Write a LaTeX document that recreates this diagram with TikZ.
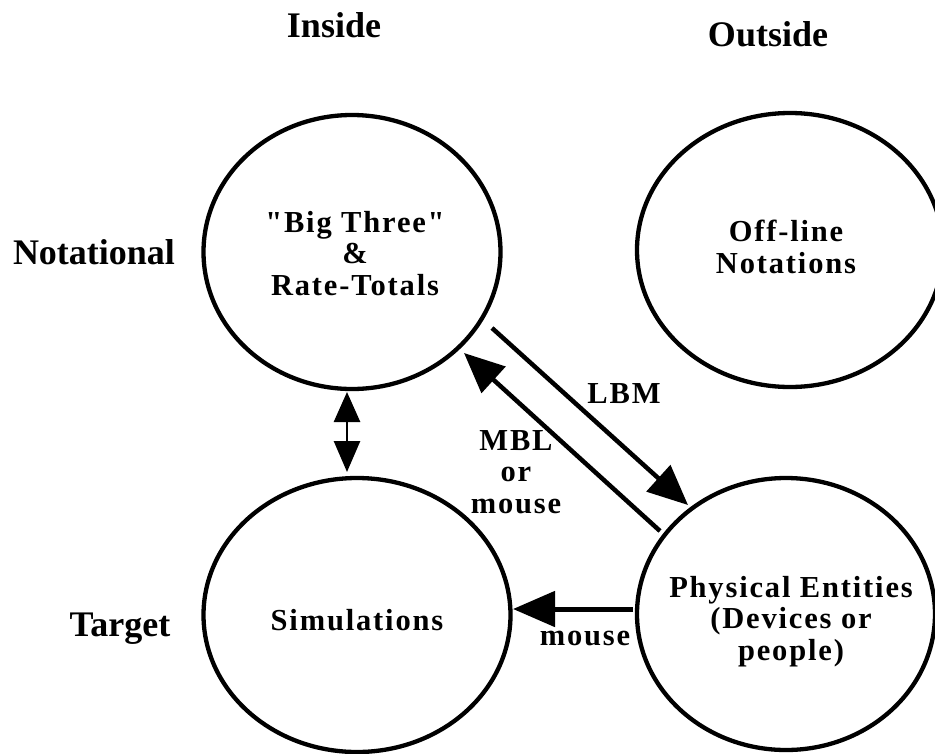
\documentclass[tikz,border=0pt]{standalone}
\usepackage{fontspec}
\setmainfont{Liberation Serif}
\newfontfamily\innerfont[LetterSpace=6]{Liberation Serif}
\usetikzlibrary{shapes.geometric,arrows.meta}
\begin{document}
\begin{tikzpicture}[x=1pt,y=-1pt,
  circ/.style={draw, ellipse, line width=4.3pt, inner sep=0pt, minimum width=300pt, minimum height=274pt},
  outer/.style={font=\fontsize{36}{40}\selectfont\bfseries, anchor=base, inner sep=0pt},
  innertext/.style={font=\innerfont\bfseries\fontsize{30.5}{31.5}\selectfont, align=center, anchor=base, inner sep=0pt},
  bigarrow/.style={line width=4.5pt, -{Triangle[length=40pt,width=35pt]}},
  mousearrow/.style={line width=5pt, -{Triangle[length=42pt,width=35pt]}},
  dblarrow/.style={line width=2.7pt, {Triangle[length=30pt,width=26pt]}-{Triangle[length=31pt,width=26pt]}}
]
\clip (0,0) rectangle (935,753);
\fill[white] (0,0) rectangle (935,753);

% circles
\node[circ, minimum width=297pt] (TL) at (352,252) {};
\node[circ, minimum width=306pt] (TR) at (790,250) {};
\node[circ, minimum width=307pt] (BL) at (357,615) {};
\node[circ, minimum width=298pt, minimum height=272pt] (BR) at (786,614) {};

% circle texts (anchor = baseline of the last line)
\node[innertext] (TLt) at (355,295) {"Big Three"\\\&\\Rate-Totals};
\node[innertext] (TRt) at (786,273) {Off-line\\Notations};
\node[innertext] (BLt) at (357,630) {Simulations};
\node[innertext] (BRt) at (791,660) {Physical Entities\\(Devices or\\people)};

% outer labels
\node[outer] (inside) at (334,37) {Inside};
\node[outer] (outside) at (768,46) {Outside};
\node[outer] (notational) at (94,264) {Notational};
\node[outer] (target) at (120,636) {Target};

% arrow labels
\node[innertext] (lbm) at (624,403) {LBM};
\node[innertext] (mbl) at (516,513) {MBL\\or\\mouse};
\node[innertext] (mouselbl) at (585,645) {mouse};

% connector end points
\coordinate (a1) at (492,328);
\coordinate (a2) at (688,505);
\coordinate (b1) at (660,531);
\coordinate (b2) at (464,353);
\coordinate (c1) at (633,609);
\coordinate (c2) at (513,609);
\coordinate (d1) at (347,392);
\coordinate (d2) at (347,472);

\draw[bigarrow] (a1) -- (a2);
\draw[bigarrow] (b1) -- (b2);
\draw[mousearrow] (c1) -- (c2);
\draw[dblarrow] (d1) -- (d2);
\end{tikzpicture}
\end{document}
